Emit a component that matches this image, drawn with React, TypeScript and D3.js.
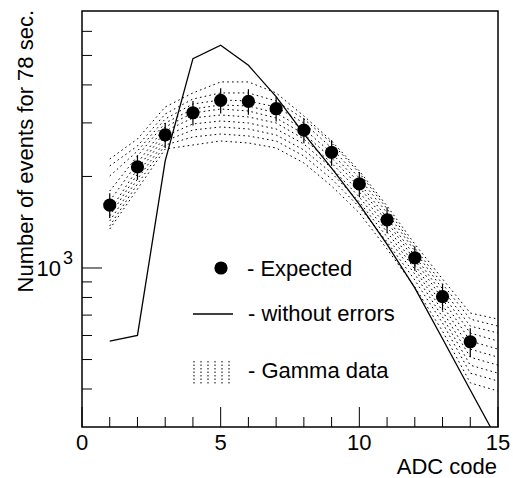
import React from "react";
import * as d3 from "d3";

// ADC channels of the expected spectrum
const adcCodes = [1, 2, 3, 4, 5, 6, 7, 8, 9, 10, 11, 12, 13, 14];
// expected number of events per channel and its error
const expectedCounts = [1610, 2150, 2740, 3240, 3560, 3530, 3340, 2840, 2400, 1890, 1440, 1080, 805, 572];
const expectedErrors = [150, 200, 260, 300, 340, 340, 310, 270, 230, 180, 140, 100, 80, 62];

// spectrum computed without errors
const noErrCodes = [1, 2, 3, 4, 5, 6, 7, 8, 9, 10, 11, 12, 13, 14, 15];
const noErrCounts = [575, 600, 2250, 4880, 5400, 4640, 3660, 2760, 2130, 1620, 1195, 860, 585, 397, 270];

// measured gamma spectra (one row per run)
const gammaCodes = [1, 2, 3, 4, 5, 6, 7, 8, 9, 10, 11, 12, 13, 14, 15];
const gammaRun1 = [2283, 2656, 3384, 3764, 4091, 4091, 3764, 3161, 2616, 2085, 1599, 1199, 920, 711, 679];
const gammaRun2 = [2166, 2519, 3209, 3596, 3764, 3764, 3542, 3091, 2577, 2054, 1564, 1163, 886, 679, 644];
const gammaRun3 = [2007, 2425, 3091, 3462, 3569, 3542, 3384, 2998, 2481, 1976, 1517, 1137, 853, 644, 611];
const gammaRun4 = [1791, 2335, 2998, 3333, 3436, 3410, 3234, 2865, 2389, 1903, 1461, 1095, 821, 611, 575];
const gammaRun5 = [1661, 2215, 2909, 3234, 3333, 3283, 3114, 2758, 2300, 1846, 1417, 1062, 791, 575, 541];
const gammaRun6 = [1540, 2117, 2822, 3114, 3185, 3138, 2998, 2656, 2215, 1778, 1364, 1023, 756, 541, 509];
const gammaRun7 = [1483, 2038, 2717, 2976, 3044, 2998, 2865, 2557, 2133, 1712, 1313, 992, 722, 509, 479];
const gammaRun8 = [1428, 1962, 2616, 2843, 2909, 2865, 2738, 2443, 2054, 1649, 1265, 955, 690, 479, 451];
const gammaRun9 = [1375, 1889, 2538, 2697, 2758, 2717, 2616, 2335, 1962, 1587, 1218, 913, 659, 451, 425];
const gammaRun10 = [1343, 1818, 2462, 2538, 2616, 2577, 2481, 2215, 1860, 1517, 1154, 866, 620, 419, 394];
const gammaRuns = [gammaRun1, gammaRun2, gammaRun3, gammaRun4, gammaRun5, gammaRun6, gammaRun7, gammaRun8, gammaRun9, gammaRun10];

// axis ticks
const xMajorTicks = [0, 5, 10, 15];
const xMinorTicks = [1, 2, 3, 4, 6, 7, 8, 9, 11, 12, 13, 14];
const yMajorTicks = [1000];
const yMinorTicks = [400, 500, 600, 700, 800, 900, 2000, 3000, 4000, 5000, 6000];

const W = 513;
const H = 478;
const FONT = "'Liberation Sans', Arial, Helvetica, sans-serif";

export default function App() {
  const x = d3.scaleLinear().domain([0, 15]).range([82, 498]);
  const y = d3.scaleLog().domain([300, 7000]).range([427, 11]);
  const [x0, x1] = x.range();
  const [y0, y1] = y.range();

  const line = d3
    .line<[number, number]>()
    .x((d) => x(d[0]))
    .y((d) => y(d[1]));

  const noErrPath = line(noErrCodes.map((c, i) => [c, noErrCounts[i]]));

  return (
    <svg
      width={W}
      height={H}
      style={{ position: "absolute", left: 0, top: 0, background: "#fff" }}
      fontFamily={FONT}
    >
      <defs>
        <clipPath id="frameClip">
          <rect x={x0} y={y1} width={x1 - x0} height={y0 - y1} />
        </clipPath>
      </defs>
      <rect x={0} y={0} width={W} height={H} fill="#fff" />

      <g clipPath="url(#frameClip)">
        {gammaRuns.map((run, k) => (
          <path
            key={k}
            d={line(gammaCodes.map((c, i) => [c, run[i]])) || ""}
            fill="none"
            stroke="#000"
            strokeWidth={1}
            strokeDasharray="1.6,3.2"
          />
        ))}
        <path d={noErrPath || ""} fill="none" stroke="#000" strokeWidth={1.3} />
        {adcCodes.map((c, i) => (
          <g key={c}>
            <line
              x1={x(c)}
              x2={x(c)}
              y1={y(expectedCounts[i] + expectedErrors[i])}
              y2={y(expectedCounts[i] - expectedErrors[i])}
              stroke="#000"
              strokeWidth={1.2}
            />
            <circle cx={x(c)} cy={y(expectedCounts[i])} r={6.6} fill="#000" />
          </g>
        ))}
      </g>

      {/* frame */}
      <rect x={x0} y={y1} width={x1 - x0} height={y0 - y1} fill="none" stroke="#000" strokeWidth={1.5} />

      {/* x ticks */}
      {xMinorTicks.map((t) => (
        <line key={"xm" + t} x1={x(t)} x2={x(t)} y1={y0} y2={y0 - 10} stroke="#000" strokeWidth={1} />
      ))}
      {xMajorTicks.map((t) => (
        <line key={"xM" + t} x1={x(t)} x2={x(t)} y1={y0} y2={y0 - 20} stroke="#000" strokeWidth={1} />
      ))}
      {xMajorTicks.map((t) => (
        <text key={"xl" + t} x={x(t)} y={450} fontSize={22} textAnchor="middle">
          {t}
        </text>
      ))}
      <text x={497} y={474} fontSize={22} textAnchor="end">
        ADC code
      </text>

      {/* y ticks */}
      {yMinorTicks.map((t) => (
        <line key={"ym" + t} x1={x0} x2={x0 + 10} y1={y(t)} y2={y(t)} stroke="#000" strokeWidth={1} />
      ))}
      {yMajorTicks.map((t) => (
        <line key={"yM" + t} x1={x0} x2={x0 + 20} y1={y(t)} y2={y(t)} stroke="#000" strokeWidth={1} />
      ))}
      {yMajorTicks.map((t) => (
        <g key={"yl" + t}>
          <text x={61} y={y(t) + 8} fontSize={22} textAnchor="end">
            10
          </text>
          <text x={63} y={y(t) - 4} fontSize={18}>
            {Math.round(Math.log10(t))}
          </text>
        </g>
      ))}
      <text
        transform={`translate(33, ${y1 - 1}) rotate(-90)`}
        fontSize={22}
        textAnchor="end"
      >
        Number of events for 78 sec.
      </text>

      {/* legend */}
      <circle cx={221} cy={268} r={6.6} fill="#000" />
      <text x={247} y={276} fontSize={22}>- Expected</text>
      <line x1={193} x2={233} y1={314} y2={314} stroke="#000" strokeWidth={1.3} />
      <text x={248} y={321} fontSize={22}>- without errors</text>
      {[194, 201, 208, 215, 222, 229].map((lx) => (
        <line
          key={lx}
          x1={lx}
          x2={lx}
          y1={361}
          y2={385}
          stroke="#000"
          strokeWidth={1}
          strokeDasharray="1.5,2"
        />
      ))}
      <text x={248} y={378} fontSize={22}>- Gamma data</text>
    </svg>
  );
}
